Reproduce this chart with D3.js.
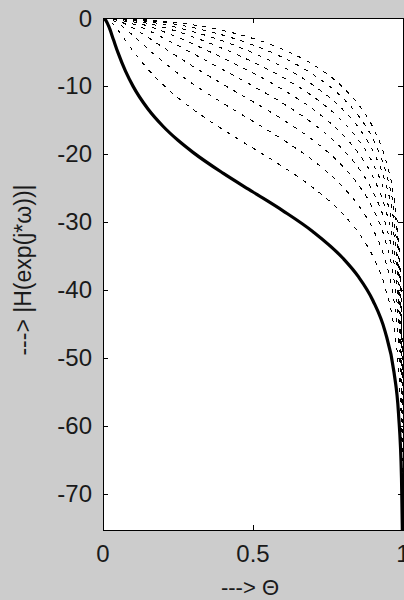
<!DOCTYPE html>
<html>
<head>
<meta charset="utf-8">
<script src="https://cdn.jsdelivr.net/npm/d3@7"></script>
<style>
  html, body { margin: 0; padding: 0; background: #cccccc; }
  svg { display: block; }
  text { font-family: "Liberation Sans", Arial, sans-serif; fill: #1a1a1a; }
</style>
</head>
<body>
<svg id="chart" width="404" height="600"></svg>
<script>
// Normalised frequency Θ (fraction of π) at which each response is sampled
const theta = [0, 0.01, 0.02, 0.035, 0.05, 0.075, 0.1, 0.15, 0.2, 0.25, 0.3, 0.4, 0.5,
               0.6, 0.7, 0.8, 0.85, 0.9, 0.94, 0.97, 0.985, 0.995, 0.998];

// Magnitude responses in dB, one per pole position a = 0 … 0.8 (dashed)
const mag00 = [0, 0.00, 0.00, -0.01, -0.03, -0.06, -0.11, -0.24, -0.44, -0.69, -1.00, -1.84, -3.01, -4.62, -6.86, -10.20, -12.64, -16.11, -20.53, -26.54, -32.56, -42.10, -50.06];
const mag01 = [0, 0.00, -0.01, -0.02, -0.04, -0.09, -0.16, -0.36, -0.64, -0.99, -1.42, -2.52, -3.97, -5.83, -8.30, -11.80, -14.30, -17.82, -22.26, -28.28, -34.30, -43.84, -51.80];
const mag02 = [0, 0.00, -0.01, -0.03, -0.06, -0.13, -0.24, -0.53, -0.93, -1.42, -2.00, -3.40, -5.12, -7.21, -9.85, -13.49, -16.02, -19.58, -24.03, -30.05, -36.08, -45.62, -53.58];
const mag03 = [0, 0.00, -0.01, -0.05, -0.09, -0.20, -0.36, -0.79, -1.35, -2.02, -2.78, -4.50, -6.48, -8.77, -11.55, -15.27, -17.84, -21.41, -25.88, -31.91, -37.93, -47.47, -55.43];
const mag04 = [0, -0.01, -0.02, -0.07, -0.14, -0.32, -0.56, -1.19, -1.97, -2.86, -3.83, -5.88, -8.09, -10.54, -13.42, -17.21, -19.80, -23.38, -27.86, -33.89, -39.91, -49.46, -57.42];
const mag05 = [0, -0.01, -0.04, -0.12, -0.24, -0.52, -0.88, -1.81, -2.90, -4.06, -5.23, -7.60, -10.00, -12.56, -15.52, -19.36, -21.96, -25.56, -30.04, -36.07, -42.10, -51.64, -59.60];
const mag06 = [0, -0.02, -0.07, -0.21, -0.41, -0.88, -1.47, -2.84, -4.30, -5.73, -7.12, -9.75, -12.30, -14.96, -17.97, -21.83, -24.45, -28.05, -32.53, -38.57, -44.60, -54.14, -62.10];
const mag07 = [0, -0.03, -0.14, -0.40, -0.79, -1.61, -2.57, -4.55, -6.42, -8.14, -9.70, -12.54, -15.20, -17.91, -20.96, -24.85, -27.47, -31.08, -35.56, -41.60, -47.62, -57.16, -65.12];
const mag08 = [0, -0.09, -0.33, -0.95, -1.77, -3.29, -4.82, -7.53, -9.80, -11.73, -13.43, -16.41, -19.14, -21.89, -24.95, -28.85, -31.48, -35.09, -39.57, -45.61, -51.64, -61.18, -69.14];
// Response for a = 0.9 (bold solid line)
const mag09 = [0, -0.37, -1.32, -3.21, -5.10, -7.82, -10.02, -13.39, -15.92, -17.99, -19.76, -22.82, -25.59, -28.36, -31.43, -35.34, -37.97, -41.58, -46.06, -52.10, -58.13, -67.67, -75.63];

const dashedSeries = [mag00, mag01, mag02, mag03, mag04, mag05, mag06, mag07, mag08];
const boldSeries = mag09;

// Axis ticks
const xTicks = [0, 0.5, 1];
const xTickLabels = ["0", "0.5", "1"];
const yTicks = [0, -10, -20, -30, -40, -50, -60, -70];
const yMin = -75.3;

const xLabel = "---> \u0398";
const yLabel = "---> |H(exp(j*\u03c9))|";

const svg = d3.select("#chart");
const W = 404, H = 600;
const plot = { left: 103, right: 403, top: 18, bottom: 530 };

svg.append("rect").attr("width", W).attr("height", H).attr("fill", "#cccccc");

const x = d3.scaleLinear().domain([0, 1]).range([plot.left, plot.right]);
const y = d3.scaleLinear().domain([yMin, 0]).range([plot.bottom, plot.top]);

// White axes area
svg.append("rect")
  .attr("x", plot.left).attr("y", plot.top)
  .attr("width", plot.right - plot.left).attr("height", plot.bottom - plot.top)
  .attr("fill", "#ffffff");

svg.append("clipPath").attr("id", "plotclip")
  .append("rect")
  .attr("x", plot.left).attr("y", plot.top)
  .attr("width", plot.right - plot.left).attr("height", plot.bottom - plot.top);

const line = d3.line()
  .x((d, i) => x(theta[i]))
  .y(d => y(d))
  .curve(d3.curveMonotoneX);

const curves = svg.append("g").attr("clip-path", "url(#plotclip)");

curves.selectAll("path.dashed")
  .data(dashedSeries)
  .join("path")
  .attr("class", "dashed")
  .attr("d", line)
  .attr("fill", "none")
  .attr("stroke", "#000")
  .attr("stroke-width", 1)
  .attr("stroke-dasharray", "4,6")
  .attr("shape-rendering", "crispEdges");

curves.append("path")
  .datum(boldSeries)
  .attr("d", line)
  .attr("fill", "none")
  .attr("stroke", "#000")
  .attr("stroke-width", 3.2)
  .attr("stroke-linejoin", "round");

// Box axes with inward ticks on all four sides
const tickLen = 5;
const axes = svg.append("g").attr("shape-rendering", "crispEdges");

axes.append("g").attr("transform", `translate(0,${plot.bottom})`)
  .call(d3.axisBottom(x).tickValues(xTicks).tickSizeInner(-tickLen).tickSizeOuter(0).tickFormat(""));
axes.append("g").attr("transform", `translate(0,${plot.top})`)
  .call(d3.axisTop(x).tickValues(xTicks).tickSizeInner(-tickLen).tickSizeOuter(0).tickFormat(""));
axes.append("g").attr("transform", `translate(${plot.left},0)`)
  .call(d3.axisLeft(y).tickValues(yTicks).tickSizeInner(-tickLen).tickSizeOuter(0).tickFormat(""));
axes.append("g").attr("transform", `translate(${plot.right},0)`)
  .call(d3.axisRight(y).tickValues(yTicks).tickSizeInner(-tickLen).tickSizeOuter(0).tickFormat(""));

axes.selectAll(".domain").attr("stroke", "#000").attr("stroke-width", 1);
axes.selectAll(".tick line").attr("stroke", "#000").attr("stroke-width", 1);

// Tick labels
svg.append("g").selectAll("text")
  .data(yTicks)
  .join("text")
  .attr("x", 92)
  .attr("y", d => y(d) + 8.5)
  .attr("text-anchor", "end")
  .attr("font-size", 24)
  .text(d => d3.format("d")(d).replace("\u2212", "-"));

svg.append("g").selectAll("text")
  .data(xTicks)
  .join("text")
  .attr("x", d => x(d))
  .attr("y", 562)
  .attr("text-anchor", "middle")
  .attr("font-size", 24)
  .text((d, i) => xTickLabels[i]);

// Axis titles
svg.append("text")
  .attr("x", 250).attr("y", 595)
  .attr("text-anchor", "middle")
  .attr("font-size", 22)
  .text(xLabel);

svg.append("text")
  .attr("transform", "translate(31,270) rotate(-90)")
  .attr("text-anchor", "middle")
  .attr("font-size", 23)
  .text(yLabel);
</script>
</body>
</html>
